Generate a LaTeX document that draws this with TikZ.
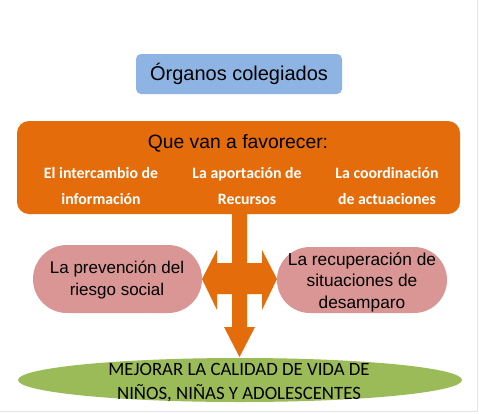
\documentclass[tikz,border=0pt]{standalone}
\usepackage{fontspec}
\usetikzlibrary{shapes.geometric}
\setmainfont{Liberation Sans}
\newfontfamily\calib{Carlito}
\definecolor{cblue}{HTML}{8EB4E3}
\definecolor{corange}{HTML}{E46C0A}
\definecolor{cpink}{HTML}{D99694}
\definecolor{cgreen}{HTML}{9BBB59}
\definecolor{cframe}{HTML}{E4E4E4}
\begin{document}
\begin{tikzpicture}[x=1pt,y=-1pt,
  box/.style={inner sep=0pt, align=center},
  itemtxt/.style={text=white, font=\calib\bfseries\fontsize{15.8}{26}\selectfont, align=center, inner sep=0pt},
  pinktxt/.style={font=\fontsize{17}{22}\selectfont, align=center, inner sep=0pt}]
\useasboundingbox (0,0) rectangle (479,413);
\fill[white] (0,0) rectangle (479,413);
\draw[cframe, line width=1pt] (477,0) -- (477,411) -- (0,411);
% blue title
\node[box, fill=cblue, rounded corners=5pt, minimum width=206pt, minimum height=40pt] (title) at (239,74) {};
\node[box, font=\fontsize{20}{22}\selectfont] (titlet) at (239,74) {Órganos colegiados};
% orange box
\node[box, fill=corange, rounded corners=12pt, minimum width=443pt, minimum height=93pt] (orange) at (238.5,167.5) {};
\node[box, font=\fontsize{19.3}{22}\selectfont] (fav) at (238,143) {Que van a favorecer:};
\node[itemtxt] (i1) at (101,186) {El intercambio de\\información};
\node[itemtxt] (i2) at (247,186) {La aportación de\\Recursos};
\node[itemtxt] (i3) at (387,186) {La coordinación\\de actuaciones};
% pink boxes
\node[box, fill=cpink, rounded corners=34pt, minimum width=169pt, minimum height=68pt] (pl) at (117.5,279) {};
\node[pinktxt] (plt) at (117,280) {La prevención del\\riesgo social};
\node[box, fill=cpink, rounded corners=33pt, minimum width=170pt, minimum height=66pt] (pr) at (362,280) {};
\node[pinktxt, font=\fontsize{17.3}{21.5}\selectfont] (prt) at (362,282) {La recuperación de\\situaciones de\\desamparo};
% green ellipse
\node[ellipse, fill=cgreen, minimum width=444pt, minimum height=44pt, inner sep=0pt] (goal) at (240,380) {};
\node[box, font=\calib\fontsize{18.8}{24}\selectfont] (goalt) at (239,383) {MEJORAR LA CALIDAD DE VIDA DE\\NIÑOS, NIÑAS Y ADOLESCENTES};
% arrow
\fill[corange] (232,214) -- (247,214) -- (247,263) -- (262,263) -- (262,250) -- (277,279)
  -- (262,310) -- (262,294) -- (247,294) -- (247,327) -- (255,327) -- (239.5,357)
  -- (224,327) -- (232,327) -- (232,294) -- (217,294) -- (217,310) -- (202,279)
  -- (217,250) -- (217,263) -- (232,263) -- cycle;
\end{tikzpicture}
\end{document}
